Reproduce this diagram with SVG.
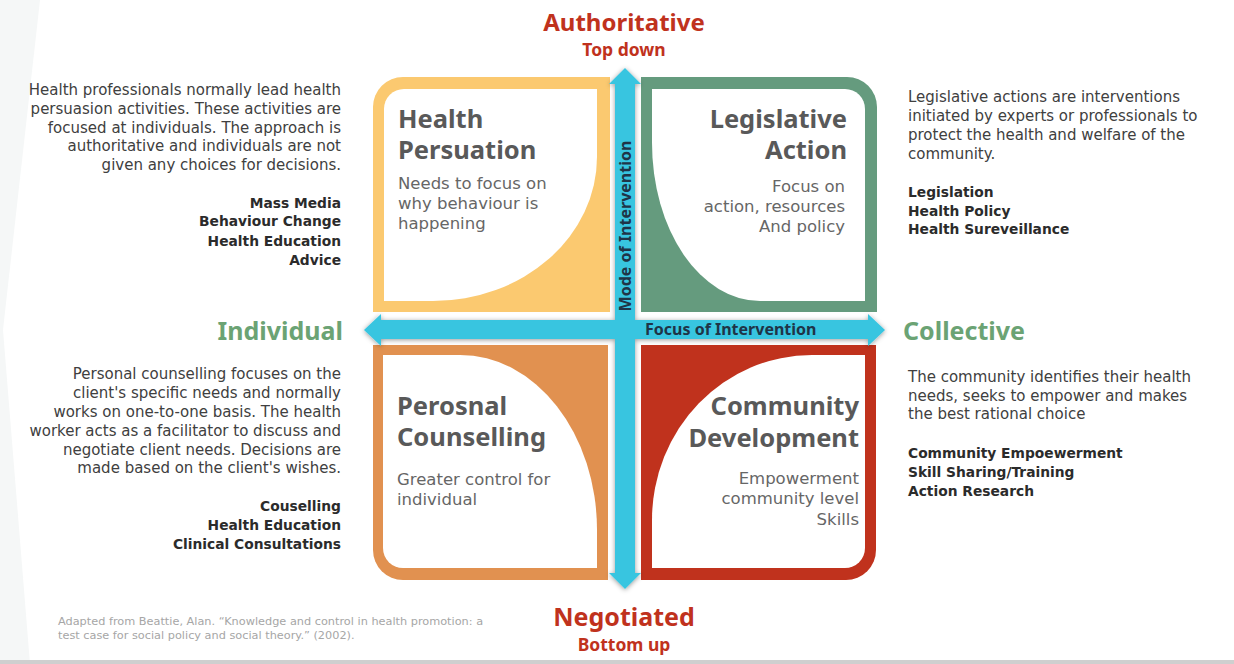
<svg xmlns="http://www.w3.org/2000/svg" width="1234" height="664" viewBox="0 0 1234 664">
<defs>
<filter id="sh" x="-10%" y="-10%" width="120%" height="120%">
<feDropShadow dx="0" dy="1" stdDeviation="2.5" flood-color="#000" flood-opacity="0.4"/>
</filter>
<style>
.hd{font-family:"Noto Sans","DejaVu Sans",sans-serif;font-weight:bold;fill:#C0321D;text-anchor:middle}
.ax{font-family:"Noto Sans","DejaVu Sans",sans-serif;font-weight:bold;fill:#6BA374;font-size:25px}
.qt{font-family:"Noto Sans","DejaVu Sans",sans-serif;font-weight:bold;fill:#595959;font-size:25.5px}
.qb{font-family:"DejaVu Sans",sans-serif;fill:#666;font-size:16.5px}
.p{font-family:"DejaVu Sans",sans-serif;fill:#404040;font-size:15px}
.b{font-family:"DejaVu Sans",sans-serif;font-weight:bold;fill:#2b2b2b;font-size:13.8px}
.lab{font-family:"Noto Sans","DejaVu Sans",sans-serif;font-weight:bold;fill:#1F3447;font-size:16px}
.r{text-anchor:end}
.w{fill:#fff}
</style>
</defs>
<rect width="1234" height="664" fill="#fff"/>
<polygon points="0,0 40,0 3,330 30,664 0,664" fill="#F5F7F7"/>
<rect x="0" y="660" width="1234" height="4" fill="#CFCFCF"/>

<g id="health-persuation">
<path d="M373,312 V107 A30,30 0 0 1 403,77 H610 V312 Z" fill="#FBC970"/>
<path class="w" d="M384,301 V109 A20,20 0 0 1 404,89 H597 V157 A164,144 0 0 1 433,301 Z"/>
<text class="qt" x="398" y="128">Health</text>
<text class="qt" x="398" y="159">Persuation</text>
<text class="qb" x="398" y="189">Needs to focus on</text>
<text class="qb" x="398" y="209">why behaviour is</text>
<text class="qb" x="398" y="229">happening</text>
</g>

<g id="legislative-action">
<path d="M641,77 H847 A30,30 0 0 1 877,107 V312 H641 Z" fill="#659B7E"/>
<path class="w" d="M652,89 H845 A20,20 0 0 1 865,109 V301 H760 A108,158 0 0 1 652,143 Z"/>
<text class="qt r" x="847" y="128">Legislative</text>
<text class="qt r" x="847" y="159">Action</text>
<text class="qb r" x="845" y="192">Focus on</text>
<text class="qb r" x="845" y="212">action, resources</text>
<text class="qb r" x="845" y="232">And policy</text>
</g>

<g id="personal-counselling">
<path d="M373,345 H608 V580 H403 A30,30 0 0 1 373,550 Z" fill="#E19150"/>
<path class="w" d="M383,355 H460 A137,175 0 0 1 597,530 V568 H403 A20,20 0 0 1 383,548 Z"/>
<text class="qt" x="397" y="415">Perosnal</text>
<text class="qt" x="397" y="446">Counselling</text>
<text class="qb" x="397" y="485">Greater control for</text>
<text class="qb" x="397" y="505">individual</text>
</g>

<g id="community-development">
<path d="M641,345 H876 V550 A30,30 0 0 1 846,580 H641 Z" fill="#C0321D"/>
<path class="w" d="M652,568 V520 A160,165 0 0 1 812,355 H865 V548 A20,20 0 0 1 845,568 Z"/>
<text class="qt r" x="859" y="415">Community</text>
<text class="qt r" x="859" y="447">Development</text>
<text class="qb r" x="859" y="484">Empowerment</text>
<text class="qb r" x="859" y="504">community level</text>
<text class="qb r" x="859" y="525">Skills</text>
</g>

<g id="connectors">
<polygon filter="url(#sh)" fill="#37C5E0" points="625,68 641,84 635,84 635,320 868,320 868,314 885,330 868,346 868,339 635,339 635,573 641,573 625,589 609,573 615,573 615,339 381,339 381,346 364,330 381,314 381,320 615,320 615,84 609,84"/>
<text class="lab" transform="translate(631,226) rotate(-90)" text-anchor="middle">Mode of Intervention</text>
<text class="lab" x="645" y="335">Focus of Intervention</text>
</g>

<g id="axis-labels">
<text class="hd" x="624" y="31" font-size="24">Authoritative</text>
<text class="hd" x="624" y="56" font-size="17.5">Top down</text>
<text class="hd" x="624" y="626" font-size="25">Negotiated</text>
<text class="hd" x="624" y="651" font-size="17.5">Bottom up</text>
<text class="ax r" x="343" y="340">Individual</text>
<text class="ax" x="903" y="340">Collective</text>
</g>

<g id="desc-health-persuation">
<text class="p r" x="341" y="95">Health professionals normally lead health</text>
<text class="p r" x="341" y="114">persuasion activities. These activities are</text>
<text class="p r" x="341" y="133">focused at individuals. The approach is</text>
<text class="p r" x="341" y="151">authoritative and individuals are not</text>
<text class="p r" x="341" y="170">given any choices for decisions.</text>
<text class="b r" x="341" y="208">Mass Media</text>
<text class="b r" x="341" y="226">Behaviour Change</text>
<text class="b r" x="341" y="246">Health Education</text>
<text class="b r" x="341" y="265">Advice</text>
</g>

<g id="desc-personal-counselling">
<text class="p r" x="341" y="379">Personal counselling focuses on the</text>
<text class="p r" x="341" y="398">client's specific needs and normally</text>
<text class="p r" x="341" y="417">works on one-to-one basis. The health</text>
<text class="p r" x="341" y="436">worker acts as a facilitator to discuss and</text>
<text class="p r" x="341" y="455">negotiate client needs. Decisions are</text>
<text class="p r" x="341" y="473">made based on the client's wishes.</text>
<text class="b r" x="341" y="511">Couselling</text>
<text class="b r" x="341" y="530">Health Education</text>
<text class="b r" x="341" y="549">Clinical Consultations</text>
</g>

<g id="desc-legislative-action">
<text class="p" x="908" y="102">Legislative actions are interventions</text>
<text class="p" x="908" y="121">initiated by experts or professionals to</text>
<text class="p" x="908" y="140">protect the health and welfare of the</text>
<text class="p" x="908" y="159">community.</text>
<text class="b" x="908" y="197">Legislation</text>
<text class="b" x="908" y="216">Health Policy</text>
<text class="b" x="908" y="234">Health Sureveillance</text>
</g>

<g id="desc-community-development">
<text class="p" x="908" y="382">The community identifies their health</text>
<text class="p" x="908" y="401">needs, seeks to empower and makes</text>
<text class="p" x="908" y="419">the best rational choice</text>
<text class="b" x="908" y="458">Community Empoewerment</text>
<text class="b" x="908" y="477">Skill Sharing/Training</text>
<text class="b" x="908" y="496">Action Research</text>
</g>

<g id="citation" font-family="DejaVu Sans, sans-serif" font-size="11.3" fill="#A6A6A6">
<text x="58" y="625">Adapted from Beattie, Alan. “Knowledge and control in health promotion: a</text>
<text x="58" y="639">test case for social policy and social theory.” (2002).</text>
</g>
</svg>
